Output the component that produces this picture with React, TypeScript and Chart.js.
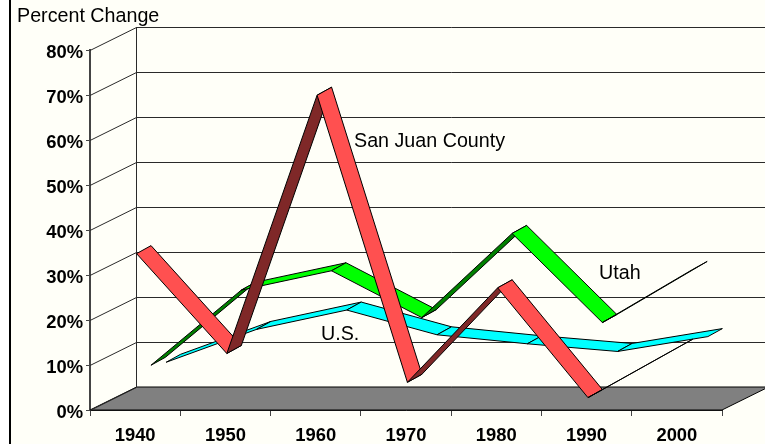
import React, { useEffect, useRef } from "react";
import { Chart, registerables } from "chart.js";

Chart.register(...registerables);

const decades = ["1940", "1950", "1960", "1970", "1980", "1990", "2000"];
const sanJuan = [34.6, 12.4, 69.8, 6.0, 27.0, 2.6, 13.8];
const utah = [8.2, 24.9, 29.2, 18.8, 37.5, 17.7, 29.5];
const us = [7.2, 14.5, 18.8, 13.3, 11.3, 9.6, 12.9];
const seriesNames = ["San Juan County", "Utah", "U.S."];
const lightColors = ["#FF5050", "#00FF00", "#00FFFF"];
const darkColors = ["#7F2828", "#008000", "#008080"];
const depthStart = [0.03, 0.34, 0.667];
const seriesLabelPos = [[354, 147], [599, 279], [321, 340]];
const axisTitle = "Percent Change";

const DX = 46.5;
const DY = -23;
const WX = 14.5;
const WY = -8;
const BG = "#FFFFF8";
const FAMILY = "'Liberation Sans', Arial, sans-serif";

const shiftLabels = (s: any, dy: number) => {
  const orig = s._computeLabelItems.bind(s);
  s._computeLabelItems = (ca: any) =>
    orig(ca).map((item: any) => ({ ...item, textOffset: item.textOffset + dy }));
};

const scene = {
  id: "scene",
  beforeDraw(chart: any) {
    const { ctx, width, height } = chart;
    ctx.save();
    ctx.fillStyle = "#FFFFFF";
    ctx.fillRect(0, 0, width, height);
    ctx.fillStyle = BG;
    ctx.fillRect(9, 0, width - 9, height);
    ctx.fillStyle = "#000000";
    ctx.fillRect(9, 0, 2, height);
    ctx.restore();
  },
  beforeDatasetsDraw(chart: any) {
    const { ctx, chartArea: a, scales } = chart;
    const y = scales.y;
    const bottom = y.getPixelForValue(0);
    ctx.save();
    // floor
    ctx.beginPath();
    ctx.moveTo(a.left, bottom);
    ctx.lineTo(a.left + DX, bottom + DY);
    ctx.lineTo(a.right + DX, bottom + DY);
    ctx.lineTo(a.right, bottom);
    ctx.closePath();
    ctx.fillStyle = "#808080";
    ctx.fill();
    ctx.strokeStyle = "#000000";
    ctx.lineWidth = 1;
    ctx.stroke();
    // wall grid
    ctx.strokeStyle = "#2A2A2A";
    for (const t of y.ticks) {
      const py = Math.round(y.getPixelForValue(t.value)) + 0.5;
      ctx.beginPath();
      ctx.moveTo(a.left, py);
      ctx.lineTo(a.left + DX, py + DY);
      if (t.value > 0) ctx.lineTo(a.right + DX, py + DY);
      ctx.stroke();
    }
    ctx.beginPath();
    ctx.moveTo(a.left + DX, bottom + DY);
    ctx.lineTo(a.left + DX, a.top + DY);
    ctx.stroke();
    // ribbons, rear series first
    for (let i = chart.data.datasets.length - 1; i >= 0; i--) {
      const pts = chart.getDatasetMeta(i).data;
      const ox = depthStart[i] * DX;
      const oy = depthStart[i] * DY;
      for (let k = 0; k < pts.length - 1; k++) {
        const x0 = pts[k].x + ox;
        const y0 = pts[k].y + oy;
        const x1 = pts[k + 1].x + ox;
        const y1 = pts[k + 1].y + oy;
        const cross = (x1 - x0) * WY - (y1 - y0) * WX;
        ctx.beginPath();
        ctx.moveTo(x0, y0);
        ctx.lineTo(x1, y1);
        ctx.lineTo(x1 + WX, y1 + WY);
        ctx.lineTo(x0 + WX, y0 + WY);
        ctx.closePath();
        ctx.fillStyle = cross < 0 ? lightColors[i] : darkColors[i];
        ctx.fill();
        ctx.strokeStyle = "#000000";
        ctx.lineWidth = 1;
        ctx.stroke();
      }
    }
    ctx.restore();
  },
  afterDraw(chart: any) {
    const { ctx } = chart;
    ctx.save();
    ctx.fillStyle = "#000000";
    ctx.font = "19.7px " + FAMILY;
    ctx.textAlign = "left";
    ctx.textBaseline = "alphabetic";
    ctx.fillText(axisTitle, 17, 22);
    seriesNames.forEach((n, i) => ctx.fillText(n, seriesLabelPos[i][0], seriesLabelPos[i][1]));
    ctx.restore();
  },
};

export default function App() {
  const ref = useRef<HTMLCanvasElement | null>(null);
  useEffect(() => {
    const chart = new Chart(ref.current as HTMLCanvasElement, {
      type: "line",
      data: {
        labels: decades,
        datasets: [
          { label: seriesNames[0], data: sanJuan, showLine: false, pointRadius: 0 },
          { label: seriesNames[1], data: utah, showLine: false, pointRadius: 0 },
          { label: seriesNames[2], data: us, showLine: false, pointRadius: 0 },
        ],
      },
      options: {
        animation: false,
        responsive: false,
        layout: { padding: { left: 0, right: 43, top: 50, bottom: 0 } },
        plugins: { legend: { display: false }, title: { display: false }, tooltip: { enabled: false } },
        scales: {
          x: {
            type: "category",
            offset: true,
            grid: { offset: true, drawOnChartArea: false, drawTicks: true, tickLength: 6, color: "#444444" },
            border: { color: "#222222", width: 1 },
            ticks: { color: "#000000", font: { family: FAMILY, size: 18.4, weight: "bold" }, padding: 9, maxRotation: 0, autoSkip: false },
            afterFit: (s: any) => { s.height = 34; },
          },
          y: {
            type: "linear",
            min: 0,
            max: 80,
            grid: { drawOnChartArea: false, drawTicks: true, tickLength: 4, color: "#444444" },
            border: { color: "#444444", width: 2 },
            ticks: { stepSize: 10, color: "#000000", font: { family: FAMILY, size: 18.4, weight: "bold" }, padding: 3, callback: (v: any) => v + "%" },
            afterFit: (s: any) => { s.width = 90; },
            afterUpdate: (s: any) => shiftLabels(s, 1.5),
          },
        },
      },
      plugins: [scene],
    } as any);
    return () => chart.destroy();
  }, []);
  return (
    <div style={{ position: "fixed", left: 0, top: 0, width: 765, height: 444 }}>
      <canvas ref={ref} width={765} height={444} style={{ display: "block" }} />
    </div>
  );
}
